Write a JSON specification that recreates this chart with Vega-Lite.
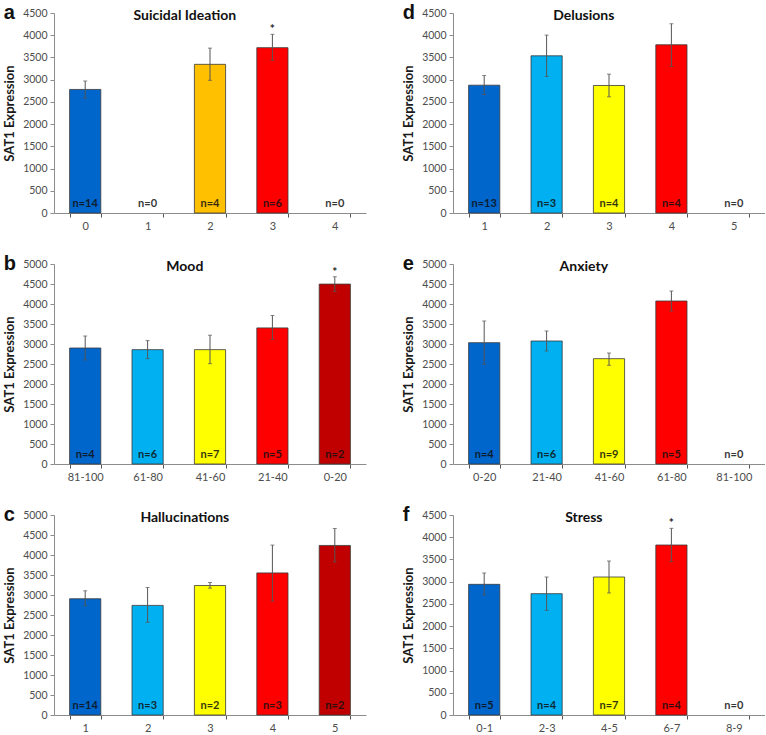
{
  "$schema": "https://vega.github.io/schema/vega-lite/v6.json",
  "padding": {"left": 3, "top": 3, "right": 0, "bottom": 0},
  "background": "white",
  "columns": 2,
  "spacing": {"row": 23, "column": 36},
  "resolve": {"scale": {"x": "independent", "y": "independent", "color": "independent"}},
  "config": {
    "view": {"stroke": null},
    "axis": {"grid": false, "domainColor": "#8c8c8c", "tickColor": "#555555", "labelFont": "Lato", "labelColor": "#4d4d4d", "titleFont": "Lato", "labelOverlap": false},
    "axisX": {"tickBand": "extent", "labelAngle": 0, "tickSize": 4, "labelPadding": 3, "labelFontSize": 11, "title": null},
    "axisY": {"tickSize": 4, "labelPadding": 3, "labelFontSize": 10.5, "titleFontSize": 13, "titleFontWeight": "bold", "titleColor": "#1a1a1a", "titlePadding": 6, "tickColor": "#8c8c8c", "format": "d", "labelOverlap": false},
    "title": {"font": "Lato", "fontWeight": "bold", "color": "#111111"}
  },
  "concat": [
    {
      "title": {"text": "a", "anchor": "start", "frame": "bounds", "fontSize": 20, "font": "Liberation Sans", "baseline": "alphabetic", "offset": -31},
      "resolve": {"scale": {"x": "independent", "y": "independent", "color": "independent"}},
      "vconcat": [{
        "width": 312, "height": 200,
        "title": {"text": "Suicidal Ideation", "anchor": "middle", "frame": "bounds", "fontSize": 14, "baseline": "alphabetic", "offset": -26},
        "data": {"values": [
          {"cat": "0", "mean": 2780, "lo": 2585, "hi": 2970, "nlab": "n=14", "star": ""},
          {"cat": "1", "mean": null, "lo": null, "hi": null, "nlab": "n=0", "star": ""},
          {"cat": "2", "mean": 3345, "lo": 2985, "hi": 3710, "nlab": "n=4", "star": ""},
          {"cat": "3", "mean": 3720, "lo": 3435, "hi": 4020, "nlab": "n=6", "star": "*"},
          {"cat": "4", "mean": null, "lo": null, "hi": null, "nlab": "n=0", "star": ""}
        ]},
        "encoding": {"x": {"field": "cat", "type": "nominal", "sort": null, "title": null, "scale": {"domain": ["0", "1", "2", "3", "4"], "paddingInner": 0.5, "paddingOuter": 0.25}}},
        "layer": [
          {"mark": {"type": "bar", "stroke": "#3a3a3a", "strokeWidth": 0.8},
           "encoding": {
             "y": {"field": "mean", "type": "quantitative", "title": "SAT1 Expression", "scale": {"domain": [0, 4500]}, "axis": {"values": [0, 500, 1000, 1500, 2000, 2500, 3000, 3500, 4000, 4500], "labelOverlap": false}},
             "color": {"field": "cat", "type": "nominal", "legend": null, "scale": {"domain": ["0", "1", "2", "3", "4"], "range": ["#0066CC", "#00B0F0", "#FFC000", "#FF0000", "#C00000"]}}}},
          {"mark": {"type": "rule", "color": "#555555", "strokeWidth": 1}, "encoding": {"y": {"field": "lo", "type": "quantitative", "title": "SAT1 Expression", "axis": {"values": [0, 500, 1000, 1500, 2000, 2500, 3000, 3500, 4000, 4500], "labelOverlap": false}}, "y2": {"field": "hi"}}},
          {"mark": {"type": "tick", "color": "#555555", "size": 4, "thickness": 1}, "encoding": {"y": {"field": "hi", "type": "quantitative", "title": "SAT1 Expression", "axis": {"values": [0, 500, 1000, 1500, 2000, 2500, 3000, 3500, 4000, 4500], "labelOverlap": false}}}},
          {"mark": {"type": "tick", "color": "#555555", "size": 4, "thickness": 1}, "encoding": {"y": {"field": "lo", "type": "quantitative", "title": "SAT1 Expression", "axis": {"values": [0, 500, 1000, 1500, 2000, 2500, 3000, 3500, 4000, 4500], "labelOverlap": false}}}},
          {"mark": {"type": "text", "font": "Lato", "fontWeight": "bold", "fontSize": 11, "baseline": "bottom", "dy": -4, "color": "#111111", "opacity": 0.85}, "encoding": {"y": {"datum": 0, "type": "quantitative", "title": "SAT1 Expression", "axis": {"values": [0, 500, 1000, 1500, 2000, 2500, 3000, 3500, 4000, 4500], "labelOverlap": false}}, "text": {"field": "nlab"}}},
          {"mark": {"type": "text", "font": "Lato", "fontWeight": "bold", "fontSize": 12, "baseline": "bottom", "dy": 2, "color": "#222222"}, "encoding": {"y": {"field": "hi", "type": "quantitative", "title": "SAT1 Expression", "axis": {"values": [0, 500, 1000, 1500, 2000, 2500, 3000, 3500, 4000, 4500], "labelOverlap": false}}, "text": {"field": "star"}}}
        ]
      }]
    },
    {
      "title": {"text": "d", "anchor": "start", "frame": "bounds", "fontSize": 20, "font": "Liberation Sans", "baseline": "alphabetic", "offset": -31},
      "resolve": {"scale": {"x": "independent", "y": "independent", "color": "independent"}},
      "vconcat": [{
        "width": 312, "height": 200,
        "title": {"text": "Delusions", "anchor": "middle", "frame": "bounds", "fontSize": 14, "baseline": "alphabetic", "offset": -26},
        "data": {"values": [
          {"cat": "1", "mean": 2876, "lo": 2666, "hi": 3094, "nlab": "n=13", "star": ""},
          {"cat": "2", "mean": 3537, "lo": 3072, "hi": 4003, "nlab": "n=3", "star": ""},
          {"cat": "3", "mean": 2869, "lo": 2614, "hi": 3124, "nlab": "n=4", "star": ""},
          {"cat": "4", "mean": 3785, "lo": 3297, "hi": 4258, "nlab": "n=4", "star": ""},
          {"cat": "5", "mean": null, "lo": null, "hi": null, "nlab": "n=0", "star": ""}
        ]},
        "encoding": {"x": {"field": "cat", "type": "nominal", "sort": null, "title": null, "scale": {"domain": ["1", "2", "3", "4", "5"], "paddingInner": 0.5, "paddingOuter": 0.25}}},
        "layer": [
          {"mark": {"type": "bar", "stroke": "#3a3a3a", "strokeWidth": 0.8},
           "encoding": {
             "y": {"field": "mean", "type": "quantitative", "title": "SAT1 Expression", "scale": {"domain": [0, 4500]}, "axis": {"values": [0, 500, 1000, 1500, 2000, 2500, 3000, 3500, 4000, 4500], "labelOverlap": false}},
             "color": {"field": "cat", "type": "nominal", "legend": null, "scale": {"domain": ["1", "2", "3", "4", "5"], "range": ["#0066CC", "#00B0F0", "#FFFF00", "#FF0000", "#C00000"]}}}},
          {"mark": {"type": "rule", "color": "#555555", "strokeWidth": 1}, "encoding": {"y": {"field": "lo", "type": "quantitative", "title": "SAT1 Expression", "axis": {"values": [0, 500, 1000, 1500, 2000, 2500, 3000, 3500, 4000, 4500], "labelOverlap": false}}, "y2": {"field": "hi"}}},
          {"mark": {"type": "tick", "color": "#555555", "size": 4, "thickness": 1}, "encoding": {"y": {"field": "hi", "type": "quantitative", "title": "SAT1 Expression", "axis": {"values": [0, 500, 1000, 1500, 2000, 2500, 3000, 3500, 4000, 4500], "labelOverlap": false}}}},
          {"mark": {"type": "tick", "color": "#555555", "size": 4, "thickness": 1}, "encoding": {"y": {"field": "lo", "type": "quantitative", "title": "SAT1 Expression", "axis": {"values": [0, 500, 1000, 1500, 2000, 2500, 3000, 3500, 4000, 4500], "labelOverlap": false}}}},
          {"mark": {"type": "text", "font": "Lato", "fontWeight": "bold", "fontSize": 11, "baseline": "bottom", "dy": -4, "color": "#111111", "opacity": 0.85}, "encoding": {"y": {"datum": 0, "type": "quantitative", "title": "SAT1 Expression", "axis": {"values": [0, 500, 1000, 1500, 2000, 2500, 3000, 3500, 4000, 4500], "labelOverlap": false}}, "text": {"field": "nlab"}}},
          {"mark": {"type": "text", "font": "Lato", "fontWeight": "bold", "fontSize": 12, "baseline": "bottom", "dy": 2, "color": "#222222"}, "encoding": {"y": {"field": "hi", "type": "quantitative", "title": "SAT1 Expression", "axis": {"values": [0, 500, 1000, 1500, 2000, 2500, 3000, 3500, 4000, 4500], "labelOverlap": false}}, "text": {"field": "star"}}}
        ]
      }]
    },
    {
      "title": {"text": "b", "anchor": "start", "frame": "bounds", "fontSize": 20, "font": "Liberation Sans", "baseline": "alphabetic", "offset": -31},
      "resolve": {"scale": {"x": "independent", "y": "independent", "color": "independent"}},
      "vconcat": [{
        "width": 312, "height": 200,
        "title": {"text": "Mood", "anchor": "middle", "frame": "bounds", "fontSize": 14, "baseline": "alphabetic", "offset": -26},
        "data": {"values": [
          {"cat": "81-100", "mean": 2900, "lo": 2600, "hi": 3200, "nlab": "n=4", "star": ""},
          {"cat": "61-80", "mean": 2859, "lo": 2634, "hi": 3085, "nlab": "n=6", "star": ""},
          {"cat": "41-60", "mean": 2859, "lo": 2508, "hi": 3219, "nlab": "n=7", "star": ""},
          {"cat": "21-40", "mean": 3403, "lo": 3110, "hi": 3712, "nlab": "n=5", "star": ""},
          {"cat": "0-20", "mean": 4498, "lo": 4314, "hi": 4682, "nlab": "n=2", "star": "*"}
        ]},
        "encoding": {"x": {"field": "cat", "type": "nominal", "sort": null, "title": null, "scale": {"domain": ["81-100", "61-80", "41-60", "21-40", "0-20"], "paddingInner": 0.5, "paddingOuter": 0.25}}},
        "layer": [
          {"mark": {"type": "bar", "stroke": "#3a3a3a", "strokeWidth": 0.8},
           "encoding": {
             "y": {"field": "mean", "type": "quantitative", "title": "SAT1 Expression", "scale": {"domain": [0, 5000]}, "axis": {"values": [0, 500, 1000, 1500, 2000, 2500, 3000, 3500, 4000, 4500, 5000], "labelOverlap": false}},
             "color": {"field": "cat", "type": "nominal", "legend": null, "scale": {"domain": ["81-100", "61-80", "41-60", "21-40", "0-20"], "range": ["#0066CC", "#00B0F0", "#FFFF00", "#FF0000", "#C00000"]}}}},
          {"mark": {"type": "rule", "color": "#555555", "strokeWidth": 1}, "encoding": {"y": {"field": "lo", "type": "quantitative", "title": "SAT1 Expression", "axis": {"values": [0, 500, 1000, 1500, 2000, 2500, 3000, 3500, 4000, 4500, 5000], "labelOverlap": false}}, "y2": {"field": "hi"}}},
          {"mark": {"type": "tick", "color": "#555555", "size": 4, "thickness": 1}, "encoding": {"y": {"field": "hi", "type": "quantitative", "title": "SAT1 Expression", "axis": {"values": [0, 500, 1000, 1500, 2000, 2500, 3000, 3500, 4000, 4500, 5000], "labelOverlap": false}}}},
          {"mark": {"type": "tick", "color": "#555555", "size": 4, "thickness": 1}, "encoding": {"y": {"field": "lo", "type": "quantitative", "title": "SAT1 Expression", "axis": {"values": [0, 500, 1000, 1500, 2000, 2500, 3000, 3500, 4000, 4500, 5000], "labelOverlap": false}}}},
          {"mark": {"type": "text", "font": "Lato", "fontWeight": "bold", "fontSize": 11, "baseline": "bottom", "dy": -4, "color": "#111111", "opacity": 0.85}, "encoding": {"y": {"datum": 0, "type": "quantitative", "title": "SAT1 Expression", "axis": {"values": [0, 500, 1000, 1500, 2000, 2500, 3000, 3500, 4000, 4500, 5000], "labelOverlap": false}}, "text": {"field": "nlab"}}},
          {"mark": {"type": "text", "font": "Lato", "fontWeight": "bold", "fontSize": 12, "baseline": "bottom", "dy": 2, "color": "#222222"}, "encoding": {"y": {"field": "hi", "type": "quantitative", "title": "SAT1 Expression", "axis": {"values": [0, 500, 1000, 1500, 2000, 2500, 3000, 3500, 4000, 4500, 5000], "labelOverlap": false}}, "text": {"field": "star"}}}
        ]
      }]
    },
    {
      "title": {"text": "e", "anchor": "start", "frame": "bounds", "fontSize": 20, "font": "Liberation Sans", "baseline": "alphabetic", "offset": -31},
      "resolve": {"scale": {"x": "independent", "y": "independent", "color": "independent"}},
      "vconcat": [{
        "width": 312, "height": 200,
        "title": {"text": "Anxiety", "anchor": "middle", "frame": "bounds", "fontSize": 14, "baseline": "alphabetic", "offset": -26},
        "data": {"values": [
          {"cat": "0-20", "mean": 3033, "lo": 2491, "hi": 3575, "nlab": "n=4", "star": ""},
          {"cat": "21-40", "mean": 3075, "lo": 2825, "hi": 3325, "nlab": "n=6", "star": ""},
          {"cat": "41-60", "mean": 2633, "lo": 2467, "hi": 2775, "nlab": "n=9", "star": ""},
          {"cat": "61-80", "mean": 4075, "lo": 3825, "hi": 4325, "nlab": "n=5", "star": ""},
          {"cat": "81-100", "mean": null, "lo": null, "hi": null, "nlab": "n=0", "star": ""}
        ]},
        "encoding": {"x": {"field": "cat", "type": "nominal", "sort": null, "title": null, "scale": {"domain": ["0-20", "21-40", "41-60", "61-80", "81-100"], "paddingInner": 0.5, "paddingOuter": 0.25}}},
        "layer": [
          {"mark": {"type": "bar", "stroke": "#3a3a3a", "strokeWidth": 0.8},
           "encoding": {
             "y": {"field": "mean", "type": "quantitative", "title": "SAT1 Expression", "scale": {"domain": [0, 5000]}, "axis": {"values": [0, 500, 1000, 1500, 2000, 2500, 3000, 3500, 4000, 4500, 5000], "labelOverlap": false}},
             "color": {"field": "cat", "type": "nominal", "legend": null, "scale": {"domain": ["0-20", "21-40", "41-60", "61-80", "81-100"], "range": ["#0066CC", "#00B0F0", "#FFFF00", "#FF0000", "#C00000"]}}}},
          {"mark": {"type": "rule", "color": "#555555", "strokeWidth": 1}, "encoding": {"y": {"field": "lo", "type": "quantitative", "title": "SAT1 Expression", "axis": {"values": [0, 500, 1000, 1500, 2000, 2500, 3000, 3500, 4000, 4500, 5000], "labelOverlap": false}}, "y2": {"field": "hi"}}},
          {"mark": {"type": "tick", "color": "#555555", "size": 4, "thickness": 1}, "encoding": {"y": {"field": "hi", "type": "quantitative", "title": "SAT1 Expression", "axis": {"values": [0, 500, 1000, 1500, 2000, 2500, 3000, 3500, 4000, 4500, 5000], "labelOverlap": false}}}},
          {"mark": {"type": "tick", "color": "#555555", "size": 4, "thickness": 1}, "encoding": {"y": {"field": "lo", "type": "quantitative", "title": "SAT1 Expression", "axis": {"values": [0, 500, 1000, 1500, 2000, 2500, 3000, 3500, 4000, 4500, 5000], "labelOverlap": false}}}},
          {"mark": {"type": "text", "font": "Lato", "fontWeight": "bold", "fontSize": 11, "baseline": "bottom", "dy": -4, "color": "#111111", "opacity": 0.85}, "encoding": {"y": {"datum": 0, "type": "quantitative", "title": "SAT1 Expression", "axis": {"values": [0, 500, 1000, 1500, 2000, 2500, 3000, 3500, 4000, 4500, 5000], "labelOverlap": false}}, "text": {"field": "nlab"}}},
          {"mark": {"type": "text", "font": "Lato", "fontWeight": "bold", "fontSize": 12, "baseline": "bottom", "dy": 2, "color": "#222222"}, "encoding": {"y": {"field": "hi", "type": "quantitative", "title": "SAT1 Expression", "axis": {"values": [0, 500, 1000, 1500, 2000, 2500, 3000, 3500, 4000, 4500, 5000], "labelOverlap": false}}, "text": {"field": "star"}}}
        ]
      }]
    },
    {
      "title": {"text": "c", "anchor": "start", "frame": "bounds", "fontSize": 20, "font": "Liberation Sans", "baseline": "alphabetic", "offset": -31},
      "resolve": {"scale": {"x": "independent", "y": "independent", "color": "independent"}},
      "vconcat": [{
        "width": 312, "height": 200,
        "title": {"text": "Hallucinations", "anchor": "middle", "frame": "bounds", "fontSize": 14, "baseline": "alphabetic", "offset": -26},
        "data": {"values": [
          {"cat": "1", "mean": 2906, "lo": 2732, "hi": 3105, "nlab": "n=14", "star": ""},
          {"cat": "2", "mean": 2740, "lo": 2318, "hi": 3188, "nlab": "n=3", "star": ""},
          {"cat": "3", "mean": 3237, "lo": 3171, "hi": 3312, "nlab": "n=2", "star": ""},
          {"cat": "4", "mean": 3552, "lo": 2848, "hi": 4248, "nlab": "n=3", "star": ""},
          {"cat": "5", "mean": 4239, "lo": 3825, "hi": 4662, "nlab": "n=2", "star": ""}
        ]},
        "encoding": {"x": {"field": "cat", "type": "nominal", "sort": null, "title": null, "scale": {"domain": ["1", "2", "3", "4", "5"], "paddingInner": 0.5, "paddingOuter": 0.25}}},
        "layer": [
          {"mark": {"type": "bar", "stroke": "#3a3a3a", "strokeWidth": 0.8},
           "encoding": {
             "y": {"field": "mean", "type": "quantitative", "title": "SAT1 Expression", "scale": {"domain": [0, 5000]}, "axis": {"values": [0, 500, 1000, 1500, 2000, 2500, 3000, 3500, 4000, 4500, 5000], "labelOverlap": false}},
             "color": {"field": "cat", "type": "nominal", "legend": null, "scale": {"domain": ["1", "2", "3", "4", "5"], "range": ["#0066CC", "#00B0F0", "#FFFF00", "#FF0000", "#C00000"]}}}},
          {"mark": {"type": "rule", "color": "#555555", "strokeWidth": 1}, "encoding": {"y": {"field": "lo", "type": "quantitative", "title": "SAT1 Expression", "axis": {"values": [0, 500, 1000, 1500, 2000, 2500, 3000, 3500, 4000, 4500, 5000], "labelOverlap": false}}, "y2": {"field": "hi"}}},
          {"mark": {"type": "tick", "color": "#555555", "size": 4, "thickness": 1}, "encoding": {"y": {"field": "hi", "type": "quantitative", "title": "SAT1 Expression", "axis": {"values": [0, 500, 1000, 1500, 2000, 2500, 3000, 3500, 4000, 4500, 5000], "labelOverlap": false}}}},
          {"mark": {"type": "tick", "color": "#555555", "size": 4, "thickness": 1}, "encoding": {"y": {"field": "lo", "type": "quantitative", "title": "SAT1 Expression", "axis": {"values": [0, 500, 1000, 1500, 2000, 2500, 3000, 3500, 4000, 4500, 5000], "labelOverlap": false}}}},
          {"mark": {"type": "text", "font": "Lato", "fontWeight": "bold", "fontSize": 11, "baseline": "bottom", "dy": -4, "color": "#111111", "opacity": 0.85}, "encoding": {"y": {"datum": 0, "type": "quantitative", "title": "SAT1 Expression", "axis": {"values": [0, 500, 1000, 1500, 2000, 2500, 3000, 3500, 4000, 4500, 5000], "labelOverlap": false}}, "text": {"field": "nlab"}}},
          {"mark": {"type": "text", "font": "Lato", "fontWeight": "bold", "fontSize": 12, "baseline": "bottom", "dy": 2, "color": "#222222"}, "encoding": {"y": {"field": "hi", "type": "quantitative", "title": "SAT1 Expression", "axis": {"values": [0, 500, 1000, 1500, 2000, 2500, 3000, 3500, 4000, 4500, 5000], "labelOverlap": false}}, "text": {"field": "star"}}}
        ]
      }]
    },
    {
      "title": {"text": "f", "anchor": "start", "frame": "bounds", "fontSize": 20, "font": "Liberation Sans", "baseline": "alphabetic", "offset": -31},
      "resolve": {"scale": {"x": "independent", "y": "independent", "color": "independent"}},
      "vconcat": [{
        "width": 312, "height": 200,
        "title": {"text": "Stress", "anchor": "middle", "frame": "bounds", "fontSize": 14, "baseline": "alphabetic", "offset": -26},
        "data": {"values": [
          {"cat": "0-1", "mean": 2940, "lo": 2700, "hi": 3195, "nlab": "n=5", "star": ""},
          {"cat": "2-3", "mean": 2730, "lo": 2355, "hi": 3105, "nlab": "n=4", "star": ""},
          {"cat": "4-5", "mean": 3105, "lo": 2745, "hi": 3465, "nlab": "n=7", "star": ""},
          {"cat": "6-7", "mean": 3825, "lo": 3450, "hi": 4200, "nlab": "n=4", "star": "*"},
          {"cat": "8-9", "mean": null, "lo": null, "hi": null, "nlab": "n=0", "star": ""}
        ]},
        "encoding": {"x": {"field": "cat", "type": "nominal", "sort": null, "title": null, "scale": {"domain": ["0-1", "2-3", "4-5", "6-7", "8-9"], "paddingInner": 0.5, "paddingOuter": 0.25}}},
        "layer": [
          {"mark": {"type": "bar", "stroke": "#3a3a3a", "strokeWidth": 0.8},
           "encoding": {
             "y": {"field": "mean", "type": "quantitative", "title": "SAT1 Expression", "scale": {"domain": [0, 4500]}, "axis": {"values": [0, 500, 1000, 1500, 2000, 2500, 3000, 3500, 4000, 4500], "labelOverlap": false}},
             "color": {"field": "cat", "type": "nominal", "legend": null, "scale": {"domain": ["0-1", "2-3", "4-5", "6-7", "8-9"], "range": ["#0066CC", "#00B0F0", "#FFFF00", "#FF0000", "#C00000"]}}}},
          {"mark": {"type": "rule", "color": "#555555", "strokeWidth": 1}, "encoding": {"y": {"field": "lo", "type": "quantitative", "title": "SAT1 Expression", "axis": {"values": [0, 500, 1000, 1500, 2000, 2500, 3000, 3500, 4000, 4500], "labelOverlap": false}}, "y2": {"field": "hi"}}},
          {"mark": {"type": "tick", "color": "#555555", "size": 4, "thickness": 1}, "encoding": {"y": {"field": "hi", "type": "quantitative", "title": "SAT1 Expression", "axis": {"values": [0, 500, 1000, 1500, 2000, 2500, 3000, 3500, 4000, 4500], "labelOverlap": false}}}},
          {"mark": {"type": "tick", "color": "#555555", "size": 4, "thickness": 1}, "encoding": {"y": {"field": "lo", "type": "quantitative", "title": "SAT1 Expression", "axis": {"values": [0, 500, 1000, 1500, 2000, 2500, 3000, 3500, 4000, 4500], "labelOverlap": false}}}},
          {"mark": {"type": "text", "font": "Lato", "fontWeight": "bold", "fontSize": 11, "baseline": "bottom", "dy": -4, "color": "#111111", "opacity": 0.85}, "encoding": {"y": {"datum": 0, "type": "quantitative", "title": "SAT1 Expression", "axis": {"values": [0, 500, 1000, 1500, 2000, 2500, 3000, 3500, 4000, 4500], "labelOverlap": false}}, "text": {"field": "nlab"}}},
          {"mark": {"type": "text", "font": "Lato", "fontWeight": "bold", "fontSize": 12, "baseline": "bottom", "dy": 2, "color": "#222222"}, "encoding": {"y": {"field": "hi", "type": "quantitative", "title": "SAT1 Expression", "axis": {"values": [0, 500, 1000, 1500, 2000, 2500, 3000, 3500, 4000, 4500], "labelOverlap": false}}, "text": {"field": "star"}}}
        ]
      }]
    }
  ]
}
